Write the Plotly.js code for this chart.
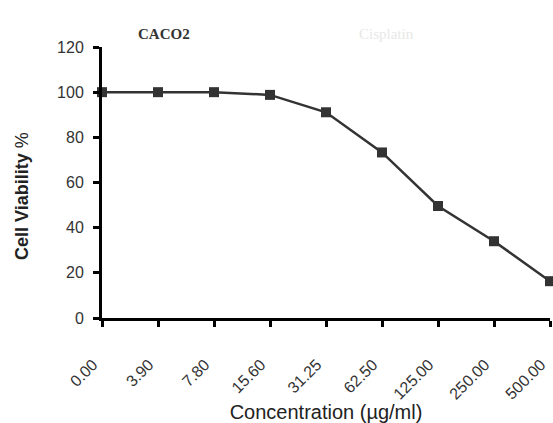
<!DOCTYPE html>
<html>
<head>
<meta charset="utf-8">
<script src="https://cdn.plot.ly/plotly-3.0.1.min.js"></script>
<style>html,body{margin:0;padding:0;background:#fff;}#chart{width:553px;height:423px;}</style>
</head>
<body>
<div id="chart"></div>
<script>
const concentrations = ["0.00","3.90","7.80","15.60","31.25","62.50","125.00","250.00","500.00"];
const viability = [100, 100, 100, 98.8, 91.1, 73.3, 49.6, 34.0, 16.3];
const yTicks = [0, 20, 40, 60, 80, 100, 120];

const trace = {
  x: concentrations,
  y: viability,
  type: 'scatter',
  mode: 'lines+markers',
  line: {color: '#333333', width: 2.5},
  marker: {symbol: 'square', size: 10, color: '#333333'},
  cliponaxis: false,
  showlegend: false
};

const layout = {
  width: 553, height: 423,
  margin: {l: 102, r: 3, t: 47, b: 105},
  paper_bgcolor: '#ffffff', plot_bgcolor: '#ffffff',
  font: {family: 'Liberation Sans, Arial, sans-serif', color: '#333333', size: 12},
  xaxis: {
    type: 'category',
    range: [0, 8],
    tickangle: -45,
    ticks: 'outside', ticklen: 6, tickwidth: 3, tickcolor: '#000',
    ticklabelstandoff: 22,
    ticklabelshift: -9,
    showline: true, linecolor: '#000', linewidth: 3,
    showgrid: false, zeroline: false,
    tickfont: {size: 16, color: '#333'},
    title: {text: 'Concentration (µg/ml)', font: {size: 20, color: '#222'}, standoff: 11},
    automargin: false
  },
  yaxis: {
    range: [0, 120],
    tickvals: yTicks,
    ticks: 'outside', ticklen: 6, tickwidth: 3, tickcolor: '#000',
    ticklabelstandoff: 6,
    showline: true, linecolor: '#000', linewidth: 3,
    showgrid: false, zeroline: false,
    tickfont: {size: 16, color: '#333'},
    automargin: false
  },
  annotations: [
    {text: '<b>Cell Viability</b> %', textangle: -90, xref: 'paper', yref: 'paper',
     x: -0.1786, xanchor: 'center', y: 0.45, yanchor: 'middle', showarrow: false,
     font: {size: 18, color: '#222'}},
    {text: '<b>CACO2</b>', xref: 'paper', yref: 'paper', x: 0.138, xanchor: 'center', y: 1.0, yshift: 23, showarrow: false,
     font: {family: 'Liberation Serif, Times New Roman, serif', size: 15, color: '#333'}},
    {text: 'Cisplatin', xref: 'paper', yref: 'paper', x: 0.634, xanchor: 'center', y: 1.0, yshift: 23, showarrow: false,
     font: {family: 'Liberation Serif, Times New Roman, serif', size: 15, color: '#e8e8e8'}}
  ]
};

Plotly.newPlot('chart', [trace], layout, {displayModeBar: false, staticPlot: true});
</script>
</body>
</html>
